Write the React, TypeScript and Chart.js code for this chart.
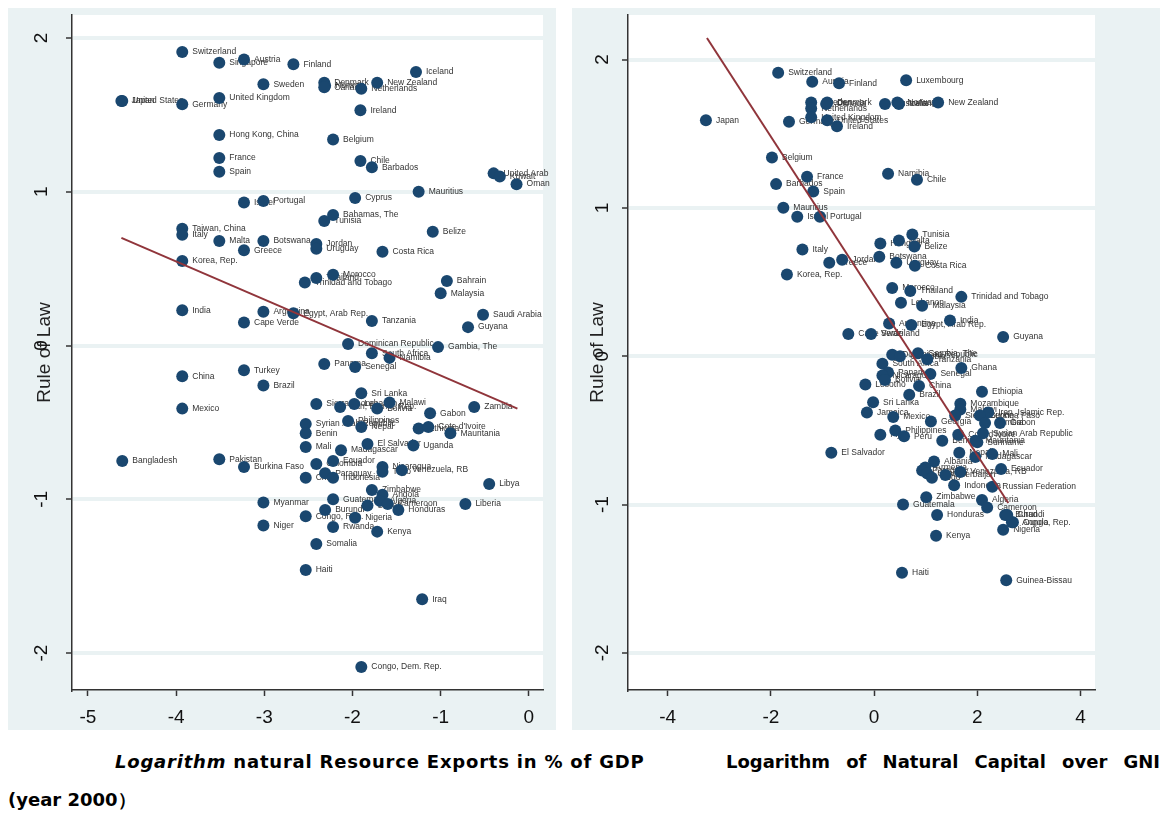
import React, { useEffect, useRef } from "react";
import { Chart, registerables } from "chart.js";
Chart.register(...registerables);

// ---------- Left panel: log natural resource exports (% of GDP) vs Rule of Law ----------
const leftNames = [
  "Switzerland", "Singapore", "Austria", "Finland", "Sweden", "United Kingdom", "Germany", "Japan", "United States",
  "Hong Kong, China", "France", "Spain", "Israel", "Portugal", "Denmark", "Norway", "Canada", "Netherlands",
  "New Zealand", "Iceland", "Ireland", "Belgium", "Chile", "Barbados", "United Arab Emirates", "Kuwait", "Oman",
  "Mauritius", "Cyprus", "Taiwan, China", "Italy", "Malta", "Botswana", "Greece", "Korea, Rep.", "India",
  "Argentina", "Egypt, Arab Rep.", "Cape Verde", "Turkey", "China", "Bahamas, The", "Tunisia", "Jordan", "Uruguay",
  "Costa Rica", "Belize", "Thailand", "Morocco", "Trinidad and Tobago", "Bahrain", "Malaysia", "Saudi Arabia",
  "Guyana", "Tanzania", "Dominican Republic", "Gambia, The", "South Africa", "Namibia", "Panama", "Senegal",
  "Brazil", "Mexico", "Bangladesh", "Pakistan", "Burkina Faso", "Myanmar", "Niger", "Sri Lanka", "Sierra Leone",
  "Iran, Islamic Rep.", "Lebanon", "Bolivia", "Malawi", "Gabon", "Zambia", "Syrian Arab Republic", "Philippines",
  "Nepal", "Benin", "Ethiopia", "Cote d'Ivoire", "Mauritania", "Mali", "Madagascar", "El Salvador", "Uganda",
  "Ecuador", "Colombia", "Nicaragua", "Togo", "Venezuela, RB", "Chad", "Paraguay", "Indonesia", "Libya",
  "Zimbabwe", "Angola", "Algeria", "Guatemala", "Cameroon", "Sudan", "Honduras", "Liberia", "Burundi",
  "Congo, Rep.", "Nigeria", "Rwanda", "Kenya", "Somalia", "Haiti", "Iraq", "Congo, Dem. Rep."
];
const leftX = [
  -3.93, -3.51, -3.23, -2.67, -3.01, -3.51, -3.93, -4.62, -4.61,
  -3.51, -3.51, -3.51, -3.23, -3.01, -2.32, -2.31, -2.32, -1.90,
  -1.72, -1.28, -1.91, -2.22, -1.91, -1.78, -0.40, -0.33, -0.14,
  -1.25, -1.97, -3.93, -3.93, -3.51, -3.01, -3.23, -3.93, -3.93,
  -3.01, -2.67, -3.23, -3.23, -3.93, -2.22, -2.32, -2.41, -2.41,
  -1.66, -1.09, -2.41, -2.22, -2.54, -0.93, -1.00, -0.52,
  -0.69, -1.78, -2.05, -1.03, -1.78, -1.58, -2.32, -1.97,
  -3.01, -3.93, -4.61, -3.51, -3.23, -3.01, -3.01, -1.90, -2.41,
  -2.14, -1.98, -1.72, -1.58, -1.12, -0.62, -2.53, -2.05,
  -1.90, -2.53, -1.25, -1.14, -0.89, -2.53, -2.13, -1.83, -1.31,
  -2.22, -2.41, -1.66, -1.66, -1.44, -2.53, -2.31, -2.22, -0.45,
  -1.78, -1.66, -1.69, -2.22, -1.60, -1.83, -1.48, -0.72, -2.31,
  -2.53, -1.97, -2.22, -1.72, -2.41, -2.53, -1.21, -1.90
];
const leftY = [
  1.91, 1.84, 1.86, 1.83, 1.70, 1.61, 1.57, 1.59, 1.59,
  1.37, 1.22, 1.13, 0.93, 0.94, 1.71, 1.69, 1.68, 1.67,
  1.71, 1.78, 1.53, 1.34, 1.20, 1.16, 1.12, 1.10, 1.05,
  1.00, 0.96, 0.76, 0.72, 0.68, 0.68, 0.62, 0.55, 0.23,
  0.22, 0.21, 0.15, -0.16, -0.20, 0.85, 0.81, 0.66, 0.63,
  0.61, 0.74, 0.44, 0.46, 0.41, 0.42, 0.34, 0.20,
  0.12, 0.16, 0.01, -0.01, -0.05, -0.08, -0.12, -0.14,
  -0.26, -0.41, -0.75, -0.74, -0.79, -1.02, -1.17, -0.31, -0.38,
  -0.40, -0.38, -0.41, -0.37, -0.44, -0.40, -0.51, -0.49,
  -0.53, -0.57, -0.54, -0.53, -0.57, -0.66, -0.68, -0.64, -0.65,
  -0.75, -0.77, -0.79, -0.82, -0.81, -0.86, -0.83, -0.86, -0.90,
  -0.94, -0.97, -1.01, -1.00, -1.03, -1.04, -1.07, -1.03, -1.07,
  -1.11, -1.12, -1.18, -1.21, -1.29, -1.46, -1.65, -2.09
];
const leftFitX = [-4.62, -0.13];
const leftFitY = [0.70, -0.41];
const leftXTicks = [-5, -4, -3, -2, -1, 0];

// ---------- Right panel: log natural capital over GNI vs Rule of Law ----------
const rightNames = [
  "Switzerland", "Austria", "Finland", "Luxembourg", "Denmark", "Canada", "Sweden", "Netherlands", "United Kingdom",
  "Germany", "United States", "Ireland", "Japan", "Australia", "Norway", "Iceland", "New Zealand", "Belgium",
  "France", "Barbados", "Spain", "Namibia", "Chile", "Mauritius", "Israel", "Portugal", "Tunisia", "Hungary",
  "Malta", "Belize", "Italy", "Botswana", "Jordan", "Greece", "Uruguay", "Costa Rica", "Korea, Rep.", "Morocco",
  "Thailand", "Trinidad and Tobago", "Lebanon", "Malaysia", "Argentina", "Egypt, Arab Rep.", "India", "Cape Verde",
  "Swaziland", "Guyana", "Dominican Republic", "Colombia", "Gambia, The", "Tanzania", "South Africa", "Ghana",
  "Panama", "Nicaragua", "Senegal", "Lesotho", "Bolivia", "China", "Brazil", "Ethiopia", "Sri Lanka", "Jamaica",
  "Mozambique", "Iran, Islamic Rep.", "Burkina Faso", "Malawi", "Sierra Leone", "Mexico", "Georgia", "Gabon",
  "Zambia", "Philippines", "Fiji", "Peru", "Benin", "Syrian Arab Republic", "Cote d'Ivoire", "Suriname",
  "Mauritania", "Nepal", "Mali", "Madagascar", "El Salvador", "Ecuador", "Albania", "Armenia", "Paraguay",
  "Uganda", "Togo", "Azerbaijan", "Venezuela, RB", "Indonesia", "Russian Federation", "Zimbabwe", "Algeria",
  "Cameroon", "Guatemala", "Honduras", "Burundi", "Congo, Rep.", "Angola", "Chad", "Nigeria", "Kenya", "Haiti",
  "Guinea-Bissau"
];
const rightX = [
  -1.86, -1.20, -0.68, 0.62, -0.91, -0.93, -1.22, -1.22, -1.22,
  -1.65, -0.91, -0.72, -3.26, 0.21, 0.45, 0.48, 1.24, -1.98,
  -1.30, -1.90, -1.18, 0.27, 0.83, -1.76, -1.49, -1.05, 0.74, 0.12,
  0.48, 0.78, -1.39, 0.10, -0.62, -0.87, 0.43, 0.79, -1.69, 0.35,
  0.70, 1.69, 0.52, 0.93, 0.29, 0.72, 1.47, -0.50,
  -0.06, 2.50, 0.35, 0.50, 0.85, 1.03, 0.16, 1.69,
  0.27, 0.16, 1.09, -0.17, 0.21, 0.87, 0.68, 2.09, -0.02, -0.14,
  1.67, 2.21, 2.05, 1.67, 1.57, 0.37, 1.10, 2.44,
  2.15, 0.41, 0.12, 0.58, 1.32, 2.11, 1.63, 2.00,
  1.96, 1.65, 2.29, 1.96, -0.83, 2.46, 1.16, 0.99, 0.93,
  1.03, 1.12, 1.38, 1.67, 1.55, 2.29, 1.01, 2.09,
  2.19, 0.56, 1.22, 2.54, 2.69, 2.67, 2.58, 2.50, 1.20, 0.54,
  2.56
];
const rightY = [
  1.91, 1.85, 1.84, 1.86, 1.71, 1.70, 1.71, 1.67, 1.61,
  1.58, 1.59, 1.55, 1.59, 1.70, 1.71, 1.70, 1.71, 1.34,
  1.21, 1.16, 1.11, 1.23, 1.19, 1.00, 0.94, 0.94, 0.82, 0.76,
  0.78, 0.74, 0.72, 0.67, 0.65, 0.63, 0.63, 0.61, 0.55, 0.46,
  0.44, 0.40, 0.36, 0.34, 0.22, 0.21, 0.24, 0.15,
  0.15, 0.13, 0.01, 0.00, 0.02, -0.02, -0.05, -0.08,
  -0.11, -0.13, -0.12, -0.19, -0.16, -0.20, -0.26, -0.24, -0.31, -0.38,
  -0.32, -0.38, -0.40, -0.36, -0.40, -0.41, -0.44, -0.45,
  -0.45, -0.50, -0.53, -0.54, -0.57, -0.52, -0.53, -0.58,
  -0.57, -0.65, -0.66, -0.68, -0.65, -0.76, -0.71, -0.75, -0.77,
  -0.79, -0.82, -0.80, -0.78, -0.87, -0.88, -0.95, -0.97,
  -1.02, -1.00, -1.07, -1.07, -1.12, -1.12, -1.07, -1.17, -1.21, -1.46,
  -1.51
];
const rightFitX = [-3.24, 2.60];
const rightFitY = [2.145, -0.99];
const rightXTicks = [-4, -2, 0, 2, 4];

const yTicks = [-2, -1, 0, 1, 2];
const yTitle = "Rule of Law";

const FONT = '"Liberation Sans", Arial, sans-serif';
const NAVY = "#1a476f";
const MAROON = "#90353b";
const BG = "#eaf2f3";
const AXIS = "#333333";

type PanelCfg = {
  names: string[]; xs: number[]; ys: number[]; fitX: number[]; fitY: number[]; xTicks: number[];
  xMin: number; xMax: number; yMin: number; yMax: number;
  yAxisWidth: number; padRight: number; titlePad: number; yTickPad: number; clipExtra: number;
};

function makeChart(canvas: HTMLCanvasElement, c: PanelCfg) {
  const bgPlugin = {
    id: "panelBg",
    beforeDraw(chart: any) {
      const { ctx, chartArea: a, width, height } = chart;
      ctx.save();
      ctx.fillStyle = BG;
      ctx.fillRect(0, 0, width, height);
      ctx.fillStyle = "#ffffff";
      ctx.fillRect(a.left, a.top, a.right - a.left, a.bottom - a.top);
      ctx.restore();
    },
  };
  const labelPlugin = {
    id: "pointLabels",
    beforeDatasetsDraw(chart: any) {
      const { ctx, chartArea: a } = chart;
      const meta = chart.getDatasetMeta(1);
      ctx.save();
      ctx.beginPath();
      ctx.rect(a.left, a.top, a.right - a.left + c.clipExtra, a.bottom - a.top);
      ctx.clip();
      ctx.font = `8.5px ${FONT}`;
      ctx.fillStyle = "#333333";
      ctx.textBaseline = "middle";
      ctx.textAlign = "left";
      meta.data.forEach((el: any, i: number) => {
        ctx.fillText(c.names[i], el.x + 10, el.y);
      });
      ctx.restore();
    },
  };
  const zeroPad = (s: any) => { s.paddingTop = 0; s.paddingBottom = 0; s.paddingLeft = 0; s.paddingRight = 0; };
  return new Chart(canvas, {
    type: "scatter",
    data: {
      datasets: [
        {
          label: "fit",
          data: c.fitX.map((x, i) => ({ x, y: c.fitY[i] })),
          showLine: true,
          borderColor: MAROON,
          borderWidth: 2,
          pointRadius: 0,
          fill: false,
        } as any,
        {
          label: "countries",
          data: c.xs.map((x, i) => ({ x, y: c.ys[i] })),
          pointRadius: 6,
          pointHoverRadius: 6,
          backgroundColor: NAVY,
          borderColor: NAVY,
          borderWidth: 0,
        },
      ],
    },
    options: {
      animation: false,
      responsive: false,
      devicePixelRatio: 1,
      events: [],
      layout: { padding: { top: 7, right: c.padRight, left: 0, bottom: 0 } },
      plugins: { legend: { display: false }, tooltip: { enabled: false } },
      scales: {
        x: {
          type: "linear",
          min: c.xMin,
          max: c.xMax,
          afterBuildTicks: (s: any) => { s.ticks = c.xTicks.map((v) => ({ value: v })); },
          afterFit: (s: any) => { s.height = 40; zeroPad(s); },
          grid: { drawOnChartArea: false, drawTicks: true, tickLength: 6, tickColor: AXIS, tickWidth: 1.5 },
          border: { display: true, color: AXIS, width: 1.5 },
          ticks: {
            autoSkip: false, maxRotation: 0, minRotation: 0, padding: 10, color: "#111",
            font: { family: FONT, size: 19 },
            callback: (v: any) => String(v),
          },
        },
        y: {
          type: "linear",
          min: c.yMin,
          max: c.yMax,
          afterBuildTicks: (s: any) => { s.ticks = yTicks.map((v) => ({ value: v })); },
          afterFit: (s: any) => { s.width = c.yAxisWidth; zeroPad(s); },
          grid: { color: BG, lineWidth: 4, drawTicks: true, tickLength: 6, tickColor: AXIS, tickWidth: 1.5 },
          border: { display: true, color: AXIS, width: 1.5 },
          ticks: {
            autoSkip: false, minRotation: 90, maxRotation: 90, crossAlign: "center", padding: c.yTickPad,
            color: "#111", font: { family: FONT, size: 19 },
            callback: (v: any) => String(v),
          },
          title: {
            display: true, text: yTitle, color: "#222",
            font: { family: FONT, size: 19 },
            padding: { top: c.titlePad, bottom: 0 },
          },
        },
      },
    },
    plugins: [bgPlugin, labelPlugin],
  } as any);
}

export default function App() {
  const leftRef = useRef<HTMLCanvasElement>(null);
  const rightRef = useRef<HTMLCanvasElement>(null);

  useEffect(() => {
    const l = makeChart(leftRef.current!, {
      names: leftNames, xs: leftX, ys: leftY, fitX: leftFitX, fitY: leftFitY, xTicks: leftXTicks,
      xMin: -5.18, xMax: 0.16, yMin: -2.24, yMax: 2.15,
      yAxisWidth: 64, padRight: 13, titlePad: 25.5, yTickPad: 15.5, clipExtra: 7,
    });
    const r = makeChart(rightRef.current!, {
      names: rightNames, xs: rightX, ys: rightY, fitX: rightFitX, fitY: rightFitY, xTicks: rightXTicks,
      xMin: -4.77, xMax: 4.28, yMin: -2.25, yMax: 2.30,
      yAxisWidth: 56, padRight: 65, titlePad: 14.5, yTickPad: 10.5, clipExtra: 40,
    });
    return () => { l.destroy(); r.destroy(); };
  }, []);

  const capFont: React.CSSProperties = {
    position: "absolute", fontFamily: '"DejaVu Sans", Verdana, sans-serif', fontWeight: "bold",
    fontSize: 18, color: "#000", whiteSpace: "nowrap", lineHeight: "20px",
  };
  const rightWords = "Logarithm of Natural Capital over GNI".split(" ");

  return (
    <div style={{ position: "absolute", left: 0, top: 0, width: 1162, height: 813, background: "#fff", overflow: "hidden" }}>
      <canvas ref={leftRef} width={548} height={722} style={{ position: "absolute", left: 8, top: 8, width: 548, height: 722 }} />
      <canvas ref={rightRef} width={588} height={722} style={{ position: "absolute", left: 572, top: 8, width: 588, height: 722 }} />
      <div style={{ ...capFont, left: 115, top: 752, letterSpacing: 0.8 }}>
        <i>Logarithm</i> natural Resource Exports in % of GDP
      </div>
      <div style={{ ...capFont, left: 726, top: 752, width: 434, display: "flex", justifyContent: "space-between" }}>
        {rightWords.map((w, i) => <span key={i}>{w}</span>)}
      </div>
      <div style={{ ...capFont, left: 8, top: 790 }}>(year 2000）</div>
    </div>
  );
}
